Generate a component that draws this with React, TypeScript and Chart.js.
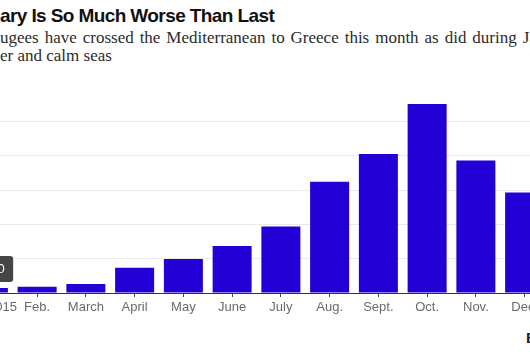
import React, { useEffect, useRef } from "react";
import { Chart, registerables } from "chart.js";

Chart.register(...registerables);

const categories = ["Jan. 2015", "Feb.", "March", "April", "May", "June", "July", "Aug.", "Sept.", "Oct.", "Nov.", "Dec."];
const arrivals = [5800, 7200, 10400, 29600, 39600, 54800, 77600, 130000, 162400, 220800, 154800, 117200];
const gridValues = [0, 40000, 80000, 120000, 160000, 200000];
const axisMax = 237000;

const titleText = "ary Is So Much Worse Than Last";
const subtitleLine1 = "ugees have crossed the Mediterranean to Greece this month as did during January 2015";
const subtitleLine2 = "er and calm seas";
const sourceText = "Bloomberg";

const BAR = "#2300d6";

const calloutPlugin = {
  id: "callout",
  afterDatasetsDraw(chart: any) {
    const el = chart.getDatasetMeta(0).data[0];
    if (!el) return;
    const ctx = chart.ctx;
    const text = arrivals[0].toLocaleString("en-US");
    ctx.save();
    ctx.font = "13px 'Liberation Sans'";
    const tw = ctx.measureText(text).width;
    const pad = 8.5;
    const h = 26;
    const w = tw + pad * 2;
    const bottom = el.y - 6;
    ctx.fillStyle = "#454545";
    ctx.beginPath();
    ctx.roundRect(el.x - w / 2, bottom - h, w, h, 3);
    ctx.fill();
    ctx.fillStyle = "#ffffff";
    ctx.textAlign = "center";
    ctx.textBaseline = "middle";
    ctx.fillText(text, el.x, bottom - h / 2);
    ctx.restore();
  },
};

export default function App() {
  const ref = useRef<HTMLCanvasElement | null>(null);

  useEffect(() => {
    if (!ref.current) return;
    const chart = new Chart(ref.current, {
      type: "bar",
      data: {
        labels: categories,
        datasets: [
          {
            data: arrivals,
            backgroundColor: BAR,
            borderWidth: 0,
            categoryPercentage: 1,
            barPercentage: 0.8,
          },
        ],
      },
      options: {
        responsive: false,
        animation: false,
        devicePixelRatio: 1,
        layout: { padding: 0 },
        plugins: { legend: { display: false }, tooltip: { enabled: false } },
        scales: {
          x: {
            offset: true,
            afterFit: (s: any) => {
              s.height = 30;
              s.paddingLeft = 0;
              s.paddingRight = 0;
            },
            grid: {
              offset: false,
              drawOnChartArea: false,
              drawTicks: true,
              tickLength: 4,
              tickColor: "#444",
              color: "#444",
            },
            border: { display: true, color: "#333", width: 1 },
            ticks: {
              color: "#6a6a6a",
              padding: 3,
              font: { family: "'Liberation Sans'", size: 13 },
              maxRotation: 0,
              autoSkip: false,
            },
          },
          y: {
            min: 0,
            max: axisMax,
            afterFit: (s: any) => {
              s.width = 0;
            },
            afterBuildTicks: (s: any) => {
              s.ticks = gridValues.map((v) => ({ value: v }));
            },
            ticks: { display: false },
            border: { display: false },
            grid: {
              drawTicks: false,
              lineWidth: 1,
              color: (c: any) => (c.index === 0 ? "rgba(0,0,0,0)" : "#e9e9e9"),
            },
          },
        },
      },
      plugins: [calloutPlugin],
    });
    return () => chart.destroy();
  }, []);

  const serif = {
    position: "absolute" as const,
    left: 0,
    fontFamily: "'Liberation Serif'",
    fontSize: 17,
    lineHeight: "17px",
    color: "#2b2b2b",
    whiteSpace: "nowrap" as const,
  };

  return (
    <div
      style={{
        position: "fixed",
        left: 0,
        top: 0,
        width: 530,
        height: 356,
        overflow: "hidden",
        background: "#fff",
      }}
    >
      <div
        style={{
          position: "absolute",
          left: 0,
          top: 6,
          fontFamily: "'Liberation Sans'",
          fontWeight: 700,
          fontSize: 19,
          lineHeight: "19px",
          letterSpacing: "-0.6px",
          color: "#111",
          whiteSpace: "nowrap",
        }}
      >
        {titleText}
      </div>
      <div style={{ ...serif, top: 29, wordSpacing: "1.7px" }}>{subtitleLine1}</div>
      <div style={{ ...serif, top: 47 }}>{subtitleLine2}</div>
      <canvas
        ref={ref}
        width={585}
        height={233}
        style={{ position: "absolute", left: -36, top: 90, width: 585, height: 233 }}
      />
      <div
        style={{
          position: "absolute",
          left: 526,
          top: 330,
          fontFamily: "'Liberation Sans'",
          fontWeight: 700,
          fontSize: 15,
          lineHeight: "15px",
          color: "#222",
          whiteSpace: "nowrap",
        }}
      >
        {sourceText}
      </div>
    </div>
  );
}
